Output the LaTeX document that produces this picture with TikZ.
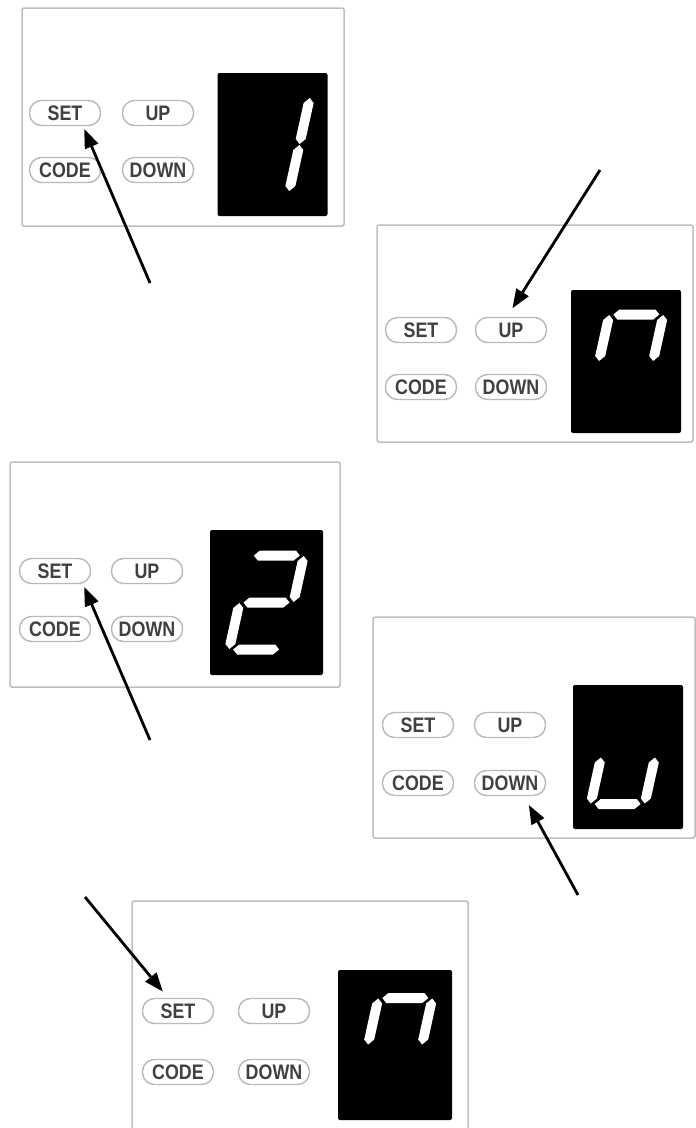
\documentclass[tikz,border=0pt]{standalone}
\usepackage{fontspec}
\newfontfamily\keyfont[FakeStretch=0.85]{Liberation Sans Bold}
\usetikzlibrary{arrows.meta}
\begin{document}
\begin{tikzpicture}[x=1pt,y=-1pt]
		\tikzset{panel/.style = {draw=gray!50,line width=1.5pt,rounded corners=1.5pt,inner sep=0pt}}
		\tikzset{display/.style = {fill=black,rounded corners=2pt,minimum width=110pt,minimum height=143pt,inner sep=0pt}}
		\tikzset{key/.style = {draw=gray!55,line width=1.4pt,rounded corners=12pt,minimum width=71pt,minimum height=25pt,inner sep=0pt,text=black!75,font=\keyfont\fontsize{21}{21}\selectfont}}
		\tikzset{push/.style = {-{Triangle[length=19pt,width=14pt]},line width=2.8pt}}
		\newcommand\seg[3]{\begin{scope}[shift={(#1,#2)},rotate=#3]
			\fill[white] (-23,0) -- (-18,5) -- (18,5) -- (23,0) -- (18,-5) -- (-18,-5) -- cycle;
		\end{scope}}
		\useasboundingbox (0,0) rectangle (696,1128);
		\fill[white] (0,0) rectangle (696,1128);
		% panel 1
		\node[panel,minimum width=322pt,minimum height=218pt] (p1) at (183,117) {};
		\node[display] (d1) at (272.5,144.5) {};
		\node[key] (set1) at (65,113) {SET};
		\node[key] (up1) at (158,113) {UP};
		\node[key] (code1) at (65,170) {CODE};
		\node[key] (down1) at (158,170) {DOWN};
		\begin{scope}[shift={(d1.center)},xslant=0.22]
			\foreach \sx/\sy/\sr in {27/-23.5/90, 27/23.5/90} {\seg{\sx}{\sy}{\sr}}
		\end{scope}
		\coordinate (t1) at (150,283);
		\draw[push,shorten >=3pt] (t1) -- ([xshift=18pt]set1.south);
		% panel 2
		\node[panel,minimum width=316pt,minimum height=217pt] (p2) at (535,333.5) {};
		\node[display] (d2) at (626,361.5) {};
		\node[key] (set2) at (421,330) {SET};
		\node[key] (up2) at (511,330) {UP};
		\node[key] (code2) at (421,387) {CODE};
		\node[key] (down2) at (511,387) {DOWN};
		\begin{scope}[shift={(d2.center)},xslant=0.22]
			\foreach \sx/\sy/\sr in {0/-47/0, 27/-23.5/90, -27/-23.5/90} {\seg{\sx}{\sy}{\sr}}
		\end{scope}
		\coordinate (t2) at (600,170);
		\draw[push,shorten >=10pt] (t2) -- ([xshift=-4pt]up2.north);
		% panel 3
		\node[panel,minimum width=330pt,minimum height=225pt] (p3) at (175,574.5) {};
		\node[display,minimum width=113pt,minimum height=145pt] (d3) at (266.5,602.5) {};
		\node[key] (set3) at (55,571) {SET};
		\node[key] (up3) at (147,571) {UP};
		\node[key] (code3) at (55,629) {CODE};
		\node[key] (down3) at (147,629) {DOWN};
		\begin{scope}[shift={(d3.center)},xslant=0.22]
			\foreach \sx/\sy/\sr in {0/-47/0, 27/-23.5/90, 0/0/0, -27/23.5/90, 0/47/0} {\seg{\sx}{\sy}{\sr}}
		\end{scope}
		\coordinate (t3) at (150,740);
		\draw[push,shorten >=3pt] (t3) -- ([xshift=28pt]set3.south);
		% panel 4
		\node[panel,minimum width=322pt,minimum height=221pt] (p4) at (534,727.5) {};
		\node[display,minimum height=144pt] (d4) at (628,757) {};
		\node[key] (set4) at (418,725) {SET};
		\node[key] (up4) at (510,725) {UP};
		\node[key] (code4) at (418,783) {CODE};
		\node[key] (down4) at (510,783) {DOWN};
		\begin{scope}[shift={(d4.center)},xslant=0.22]
			\foreach \sx/\sy/\sr in {-27/23.5/90, 0/47/0, 27/23.5/90} {\seg{\sx}{\sy}{\sr}}
		\end{scope}
		\coordinate (t4) at (578,895);
		\draw[push,shorten >=10pt] (t4) -- ([xshift=14pt]down4.south);
		% panel 5
		\node[panel,minimum width=336pt,minimum height=234pt] (p5) at (300,1018) {};
		\node[display,minimum width=114pt,minimum height=150pt] (d5) at (395,1045) {};
		\node[key] (set5) at (178,1011) {SET};
		\node[key] (up5) at (274,1011) {UP};
		\node[key] (code5) at (178,1072) {CODE};
		\node[key] (down5) at (274,1072) {DOWN};
		\begin{scope}[shift={(d5.center)},xslant=0.22]
			\foreach \sx/\sy/\sr in {0/-47/0, 27/-23.5/90, -27/-23.5/90} {\seg{\sx}{\sy}{\sr}}
		\end{scope}
		\coordinate (t5) at (85,897);
		\draw[push,shorten >=8pt] (t5) -- ([xshift=-10pt]set5.north);
	\end{tikzpicture}
\end{document}
